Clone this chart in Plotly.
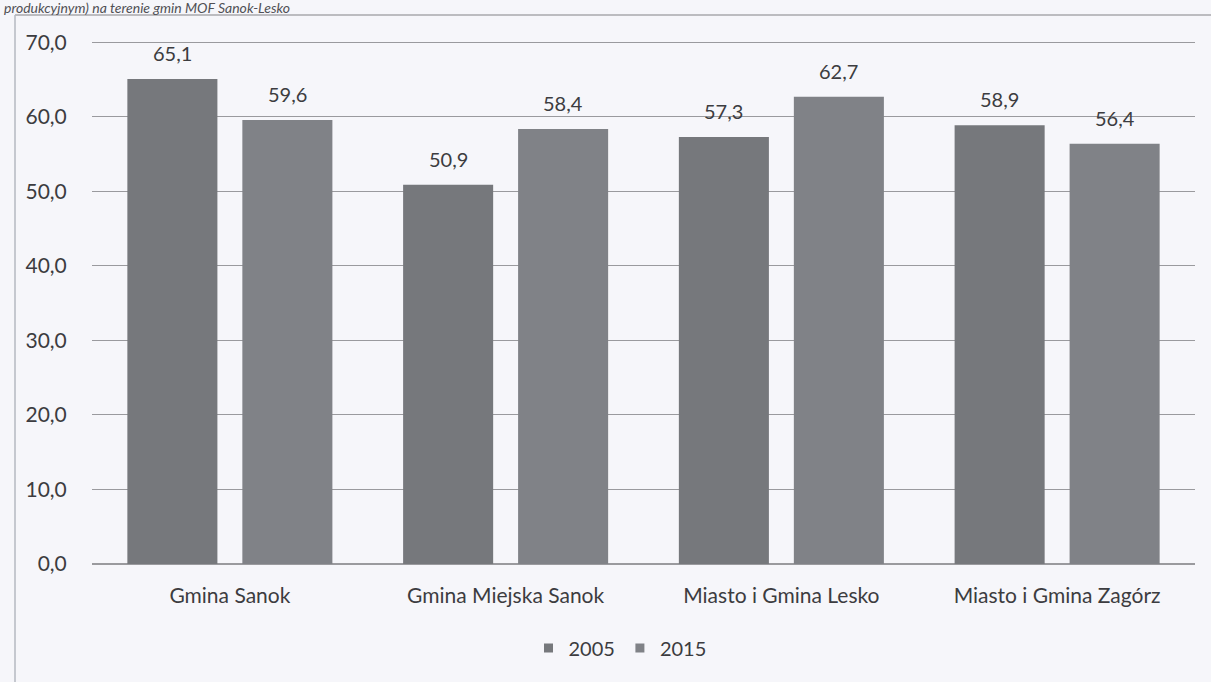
import plotly.graph_objects as go

categories = ["Gmina Sanok", "Gmina Miejska Sanok", "Miasto i Gmina Lesko", "Miasto i Gmina Zagórz"]
series_names = ["2005", "2015"]
values_2005 = [65.1, 50.9, 57.3, 58.9]
values_2015 = [59.6, 58.4, 62.7, 56.4]
y_ticks = [0, 10, 20, 30, 40, 50, 60, 70]
y_tick_labels = ["0,0", "10,0", "20,0", "30,0", "40,0", "50,0", "60,0", "70,0"]
title_text = "produkcyjnym) na terenie gmin MOF Sanok-Lesko"

colors = ["#76787c", "#808287"]
font_family = "Lato, 'Open Sans', sans-serif"
text_color = "#3c3c40"
bg = "#f6f6fa"

def fmt(v):
    return f"{v:.1f}".replace(".", ",")

W, H = 1211, 682
ml, mr, mt, mb = 92, 16, 35, 118
pw, ph = W - ml - mr, H - mt - mb
bargap, bargroupgap = 0.166, 0.217

def px_x(p):
    return (p - ml) / pw

def px_y(p):
    return (H - mb - p) / ph

cat_w = pw / len(categories)
slot = cat_w * (1 - bargap) / len(series_names)

fig = go.Figure()
annotations = []
for i, (name, vals, col) in enumerate(zip(series_names, [values_2005, values_2015], colors)):
    fig.add_trace(go.Bar(
        x=categories, y=vals, name=name,
        marker=dict(color=col, line=dict(width=0)),
        showlegend=False,
    ))
    fig.add_trace(go.Scatter(
        x=[None], y=[None], mode="markers", name=name,
        marker=dict(symbol="square", size=9, color=col),
    ))
    shift = (i - (len(series_names) - 1) / 2) * slot
    for c, v in zip(categories, vals):
        annotations.append(dict(
            x=c, y=v, xref="x", yref="y", text=fmt(v), showarrow=False,
            xshift=shift, yshift=26, yanchor="middle", xanchor="center",
            font=dict(size=20, color=text_color, family=font_family),
        ))

annotations.append(dict(
    text="<i>" + title_text + "</i>", xref="paper", yref="paper",
    x=px_x(2), y=px_y(8), xanchor="left", yanchor="middle", showarrow=False,
    font=dict(size=14, color="#505055", family=font_family),
))

fig.update_layout(
    width=W, height=H,
    margin=dict(l=ml, r=mr, t=mt, b=mb),
    paper_bgcolor=bg, plot_bgcolor=bg,
    barmode="group", bargap=bargap, bargroupgap=bargroupgap,
    font=dict(family=font_family, size=20, color=text_color),
    showlegend=True,
    legend=dict(orientation="h", x=px_x(620), xanchor="center", y=px_y(648), yanchor="middle",
                font=dict(size=20, color=text_color), itemwidth=30, bgcolor="rgba(0,0,0,0)",
                tracegroupgap=0),
    yaxis=dict(range=[0, 71], tickvals=y_ticks, ticktext=y_tick_labels,
               showgrid=True, gridcolor="#9a9a9e", gridwidth=1,
               zeroline=True, zerolinecolor="#9a9a9e", zerolinewidth=1.5,
               ticks="outside", ticklen=20, tickcolor="rgba(0,0,0,0)",
               showline=False, tickfont=dict(size=21, color=text_color)),
    xaxis=dict(showgrid=False, showline=False, ticks="outside", ticklen=13,
               tickcolor="rgba(0,0,0,0)", tickfont=dict(size=21, color=text_color)),
    shapes=[
        dict(type="line", xref="paper", yref="paper", x0=px_x(15), x1=px_x(1211), y0=px_y(15), y1=px_y(15),
             line=dict(color="#a8a8ad", width=1.5)),
        dict(type="line", xref="paper", yref="paper", x0=px_x(15), x1=px_x(15), y0=px_y(15), y1=px_y(682),
             line=dict(color="#b4b8c0", width=1.5)),
    ],
    annotations=annotations,
)

fig.write_html("out.html", config={"displayModeBar": False},
               post_script="document.body.style.margin='0px';")
